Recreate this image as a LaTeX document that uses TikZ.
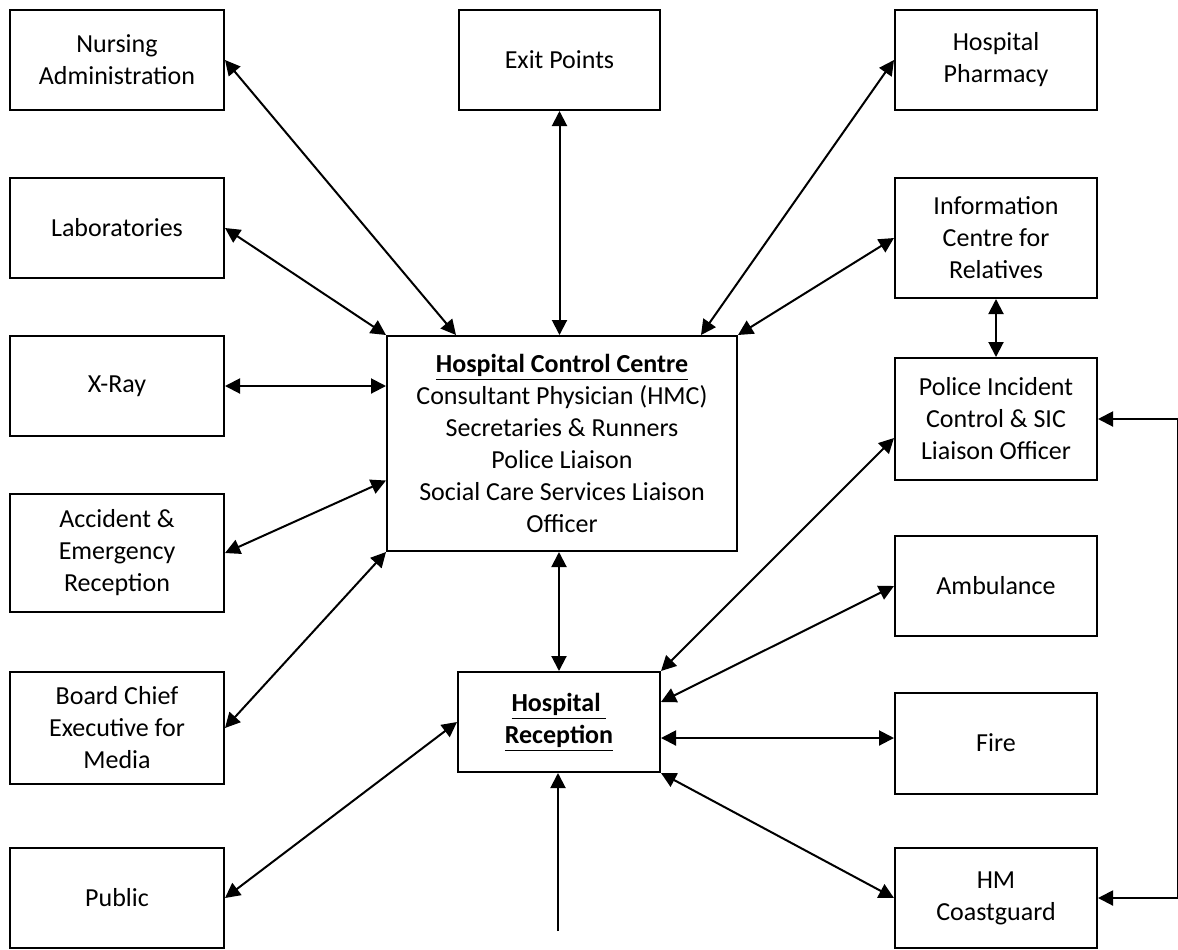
\documentclass[tikz,border=0pt]{standalone}
\usepackage{fontspec}
\setmainfont{Carlito}
\usetikzlibrary{arrows.meta,calc}

\begin{document}
\begin{tikzpicture}[x=0.5pt,y=-0.5pt,
  box/.style={draw,line width=1pt,align=center,inner sep=2pt,font=\fontsize{13}{16}\selectfont},
  link/.style={line width=1pt,{Triangle[length=7.5pt,width=7.5pt]}-{Triangle[length=7.5pt,width=7.5pt]}},
  feed/.style={line width=1pt,-{Triangle[length=7.5pt,width=7.5pt]}}]
  \useasboundingbox (0,0) rectangle (1178,949);
  % left column
  \node[box,minimum width=107pt,minimum height=50pt] (nursing) at (117,60) {Nursing\\Administration};
  \node[box,minimum width=107pt,minimum height=50pt] (lab) at (117,228) {Laboratories};
  \node[box,minimum width=107pt,minimum height=50pt] (xray) at (117,386) {X-Ray};
  \node[box,minimum width=107pt,minimum height=59pt] (aande) at (117,553) {Accident \&\\Emergency\\Reception};
  \node[box,minimum width=107pt,minimum height=56pt] (board) at (117,728) {Board Chief\\Executive for\\Media};
  \node[box,minimum width=107pt,minimum height=50pt] (public) at (117,898) {Public};
  % centre column
  \node[box,minimum width=100.5pt,minimum height=50pt] (exit) at (559.5,60) {Exit Points};
  \node[box,minimum width=175pt,minimum height=107.5pt] (ctrl) at (562,443.5)
    {\underline{\textbf{Hospital Control Centre}}\\Consultant Physician (HMC)\\Secretaries \& Runners\\Police Liaison\\Social Care Services Liaison\\Officer};
  \node[box,minimum width=101pt,minimum height=50pt] (reception) at (559,722)
    {\underline{\textbf{Hospital\ }}\\\underline{\textbf{Reception}}};
  % right column
  \node[box,minimum width=101pt,minimum height=50pt] (pharmacy) at (996,60) {Hospital\\Pharmacy};
  \node[box,minimum width=101pt,minimum height=60pt] (info) at (996,238) {Information\\Centre for\\Relatives};
  \node[box,minimum width=101pt,minimum height=61pt] (police) at (996,419) {Police Incident\\Control \& SIC\\Liaison Officer};
  \node[box,minimum width=101pt,minimum height=50pt] (ambulance) at (996,586) {Ambulance};
  \node[box,minimum width=101pt,minimum height=50.5pt] (fire) at (996,743) {Fire};
  \node[box,minimum width=101pt,minimum height=50pt] (coast) at (996,898) {HM\\Coastguard};
  \coordinate (firelink) at ($(reception.east)+(0,16)$);
  \coordinate (inlet) at (558,931);
  % links to the control centre
  \draw[link] (nursing.east) -- ($(ctrl.north west)+(70,0)$);
  \draw[link] (lab.east) -- (ctrl.north west);
  \draw[link] (xray.east) -- (xray.east -| ctrl.west);
  \draw[link] (aande.east) -- ($(ctrl.west)+(0,37)$);
  \draw[link] (board.east) -- (ctrl.south west);
  \draw[link] (exit.south) -- (exit.south |- ctrl.north);
  \draw[link] (pharmacy.west) -- ($(ctrl.north east)+(-37,0)$);
  \draw[link] (info.west) -- (ctrl.north east);
  \draw[link] (info.south) -- (police.north);
  \draw[link] (ctrl.south -| reception.north) -- (reception.north);
  % links to the reception
  \draw[link] (public.east) -- (reception.west);
  \draw[link] (reception.north east) -- ($(police.west)+(0,19)$);
  \draw[link] ($(reception.north east)+(0,31)$) -- (ambulance.west);
  \draw[link] (firelink) -- (firelink -| fire.west);
  \draw[link] (reception.south east) -- (coast.west);
  \draw[feed] (inlet) -- (inlet |- reception.south);
  % police to coastguard
  \draw[link] (police.east) -- ++(80,0) |- (coast.east);
\end{tikzpicture}
\end{document}
